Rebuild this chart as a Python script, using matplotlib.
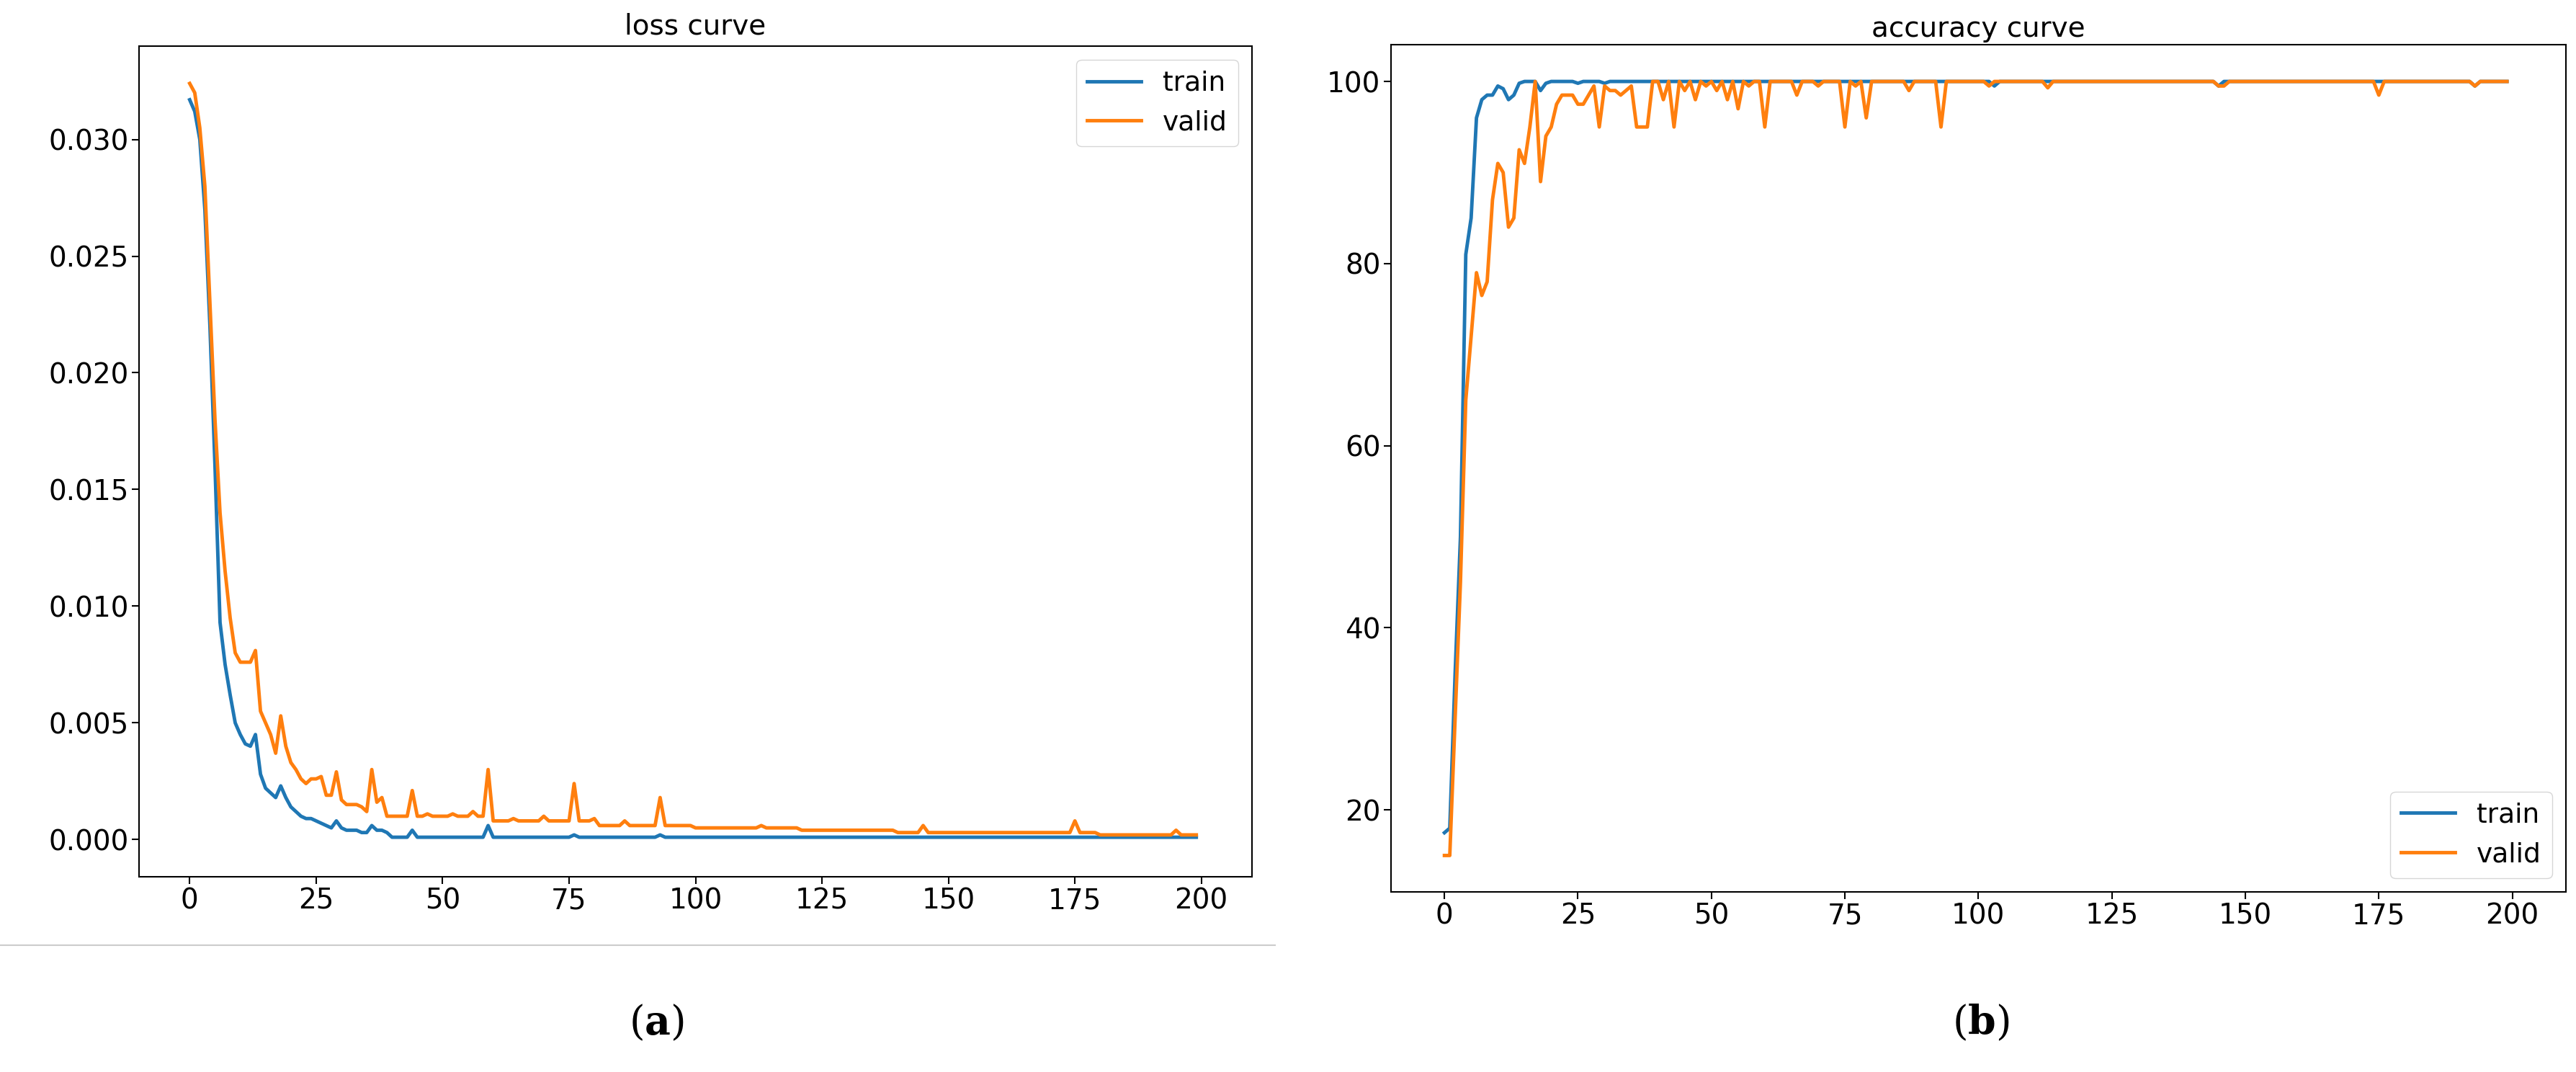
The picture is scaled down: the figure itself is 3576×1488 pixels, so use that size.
import numpy as np
import matplotlib.pyplot as plt

EPOCHS = 200

# loss curve: first 40 epochs read point by point, the rest is a flat tail with spikes
loss_train_head = [0.0317, 0.0312, 0.0300, 0.0270, 0.0220, 0.0160, 0.0093, 0.0075, 0.0062, 0.0050,
                   0.0045, 0.0041, 0.0040, 0.0045, 0.0028, 0.0022, 0.0020, 0.0018, 0.0023, 0.0018,
                   0.0014, 0.0012, 0.0010, 0.0009, 0.0009, 0.0008, 0.0007, 0.0006, 0.0005, 0.0008,
                   0.0005, 0.0004, 0.0004, 0.0004, 0.0003, 0.0003, 0.0006, 0.0004, 0.0004, 0.0003]
loss_train_tail = 0.0001
loss_train_spikes = {44: 0.0004, 59: 0.0006, 76: 0.0002, 93: 0.0002}

loss_valid_head = [0.0324, 0.0320, 0.0305, 0.0280, 0.0230, 0.0180, 0.0140, 0.0115, 0.0095, 0.0080,
                   0.0076, 0.0076, 0.0076, 0.0081, 0.0055, 0.0050, 0.0045, 0.0037, 0.0053, 0.0040,
                   0.0033, 0.0030, 0.0026, 0.0024, 0.0026, 0.0026, 0.0027, 0.0019, 0.0019, 0.0029,
                   0.0017, 0.0015, 0.0015, 0.0015, 0.0014, 0.0012, 0.0030, 0.0016, 0.0018, 0.0010]
loss_valid_tail = [0.0010, 0.0008, 0.0006, 0.0005, 0.0004, 0.0003, 0.0003, 0.0002]  # per 20-epoch band from 40
loss_valid_spikes = {44: 0.0021, 47: 0.0011, 52: 0.0011, 56: 0.0012, 59: 0.0030, 64: 0.0009,
                     70: 0.0010, 76: 0.0024, 80: 0.0009, 86: 0.0008, 93: 0.0018, 100: 0.0005,
                     106: 0.0005, 113: 0.0006, 120: 0.0005, 130: 0.0004, 145: 0.0006,
                     160: 0.0003, 175: 0.0008, 195: 0.0004}

# accuracy curve
acc_train_head = [17.5, 18, 35, 50, 81, 85, 96, 98, 98.5, 98.5,
                  99.5, 99.2, 98, 98.5, 99.8, 100, 100, 100, 99, 99.8]
acc_train_dips = {25: 99.8, 30: 99.8, 103: 99.5, 145: 99.5, 193: 99.5}

acc_valid_head = [15, 15, 30, 45, 65, 72, 79, 76.5, 78, 87,
                  91, 90, 84, 85, 92.5, 91, 95, 100, 89, 94,
                  95, 97.5, 98.5, 98.5, 98.5, 97.5, 97.5, 98.5, 99.5, 95,
                  99.5, 99, 99, 98.5, 99, 99.5, 95, 95, 95, 100]
acc_valid_dips = {41: 98, 43: 95, 45: 99, 47: 98, 49: 99.5, 51: 99, 53: 98, 55: 97,
                  57: 99.5, 60: 95, 66: 98.5, 70: 99.5, 75: 95, 77: 99.5, 79: 96,
                  87: 99, 93: 95, 102: 99.5, 113: 99.3, 145: 99.5, 146: 99.5, 175: 98.5, 193: 99.5}

x = np.arange(EPOCHS)

lt = np.full(EPOCHS, loss_train_tail)
lt[:len(loss_train_head)] = loss_train_head
for k, v in loss_train_spikes.items():
    lt[k] = v

lv = np.zeros(EPOCHS)
lv[:len(loss_valid_head)] = loss_valid_head
for i in range(len(loss_valid_head), EPOCHS):
    lv[i] = loss_valid_tail[(i - 40) // 20]
for k, v in loss_valid_spikes.items():
    lv[k] = v

at = np.full(EPOCHS, 100.0)
at[:len(acc_train_head)] = acc_train_head
for k, v in acc_train_dips.items():
    at[k] = v

av = np.full(EPOCHS, 100.0)
av[:len(acc_valid_head)] = acc_valid_head
for k, v in acc_valid_dips.items():
    av[k] = v

plt.rcParams['font.size'] = 28
fig = plt.figure(figsize=(35.76, 14.88), dpi=100)
ax1 = fig.add_axes([0.054, 0.182, 0.432, 0.775])
ax2 = fig.add_axes([0.54, 0.168, 0.456, 0.79])

ax1.plot(x, lt, color="#1f77b4", lw=3.5, label="train")
ax1.plot(x, lv, color="#ff7f0e", lw=3.5, label="valid")
ax1.set_title("loss curve", fontsize=28, pad=12)
ax1.set_xticks([0, 25, 50, 75, 100, 125, 150, 175, 200])
ax1.set_yticks([0, 0.005, 0.01, 0.015, 0.02, 0.025, 0.03])
ax1.set_yticklabels(["0.000", "0.005", "0.010", "0.015", "0.020", "0.025", "0.030"])
ax1.set_xlim(-10, 210)
ax1.set_ylim(-0.0016, 0.0340)
ax1.legend(loc="upper right", fontsize=27)

ax2.plot(x, at, color="#1f77b4", lw=3.5, label="train")
ax2.plot(x, av, color="#ff7f0e", lw=3.5, label="valid")
ax2.set_title("accuracy curve", fontsize=28, pad=8)
ax2.set_xticks([0, 25, 50, 75, 100, 125, 150, 175, 200])
ax2.set_yticks([20, 40, 60, 80, 100])
ax2.set_xlim(-10, 210)
ax2.set_ylim(11, 104)
ax2.legend(loc="lower right", fontsize=27)

for ax in (ax1, ax2):
    ax.tick_params(length=7, width=1.5)
    for s in ax.spines.values():
        s.set_linewidth(1.5)

fig.add_artist(plt.Line2D([0, 0.495], [0.118, 0.118], color="#cccccc", lw=1.5))
plt.rcParams['mathtext.fontset'] = 'dejavuserif'
fig.text(0.255, 0.035, r"$(\mathbf{a})$", ha="center", fontsize=40)
fig.text(0.769, 0.035, r"$(\mathbf{b})$", ha="center", fontsize=40)

fig.savefig("out.png", dpi=100)
